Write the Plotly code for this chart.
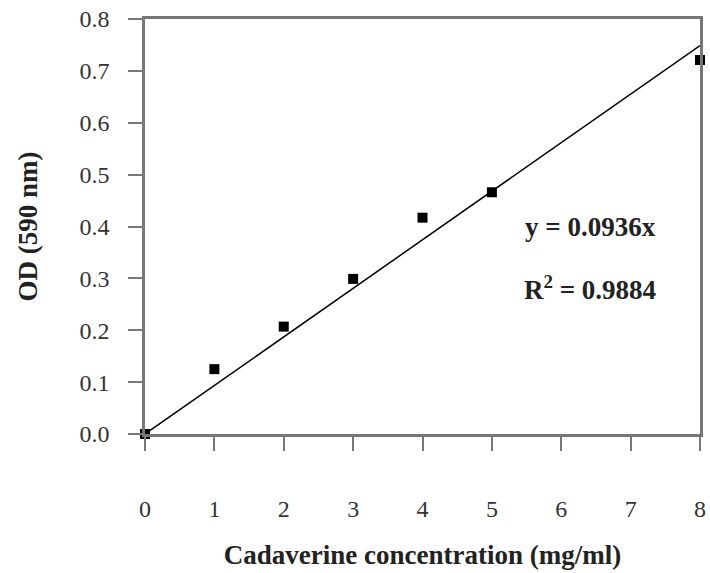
import plotly.graph_objects as go

# Cadaverine standard curve
concentration = [0, 1, 2, 3, 4, 5, 8]
od_590 = [0.0, 0.125, 0.207, 0.299, 0.417, 0.466, 0.721]
slope = 0.0936
r_squared = 0.9884
x_ticks = [0, 1, 2, 3, 4, 5, 6, 7, 8]
y_ticks = [0.0, 0.1, 0.2, 0.3, 0.4, 0.5, 0.6, 0.7, 0.8]

fit_x = [0, 8]
fit_y = [slope * x for x in fit_x]

serif = "Liberation Serif"
axis_color = "#777777"

fig = go.Figure()
fig.add_trace(go.Scatter(
    x=fit_x, y=fit_y, mode="lines",
    line=dict(color="black", width=1.5),
    hoverinfo="skip", showlegend=False, cliponaxis=False,
))
fig.add_trace(go.Scatter(
    x=concentration, y=od_590, mode="markers",
    marker=dict(symbol="square", size=10, color="black"),
    showlegend=False, cliponaxis=False,
))

fig.add_annotation(
    x=6.42, y=0.40, xref="x", yref="y", showarrow=False,
    text=f"<b>y = {slope}x</b>", xanchor="center",
    font=dict(family=serif, size=27, color="#222222"),
)
fig.add_annotation(
    x=6.42, y=0.282, xref="x", yref="y", showarrow=False,
    text=f"<b>R<sup>2</sup> = {r_squared}</b>", xanchor="center",
    font=dict(family=serif, size=27, color="#222222"),
)

fig.update_layout(
    width=710, height=573,
    margin=dict(l=145, r=4, t=19, b=139),
    plot_bgcolor="white", paper_bgcolor="white",
    font=dict(family=serif, color="#333333"),
)
fig.update_xaxes(
    range=[0, 8], tickvals=x_ticks, ticktext=[str(v) for v in x_ticks],
    showgrid=False, zeroline=False,
    showline=True, linecolor=axis_color, linewidth=2.5, mirror=True,
    ticks="outside", ticklen=14, tickwidth=2, tickcolor=axis_color,
    ticklabelstandoff=37,
    tickfont=dict(family=serif, size=24, color="#333333"),
    title=dict(text="<b>Cadaverine concentration (mg/ml)</b>",
               font=dict(family=serif, size=27, color="#222222"), standoff=25),
)
fig.update_yaxes(
    range=[0, 0.8], tickvals=y_ticks, tickformat=".1f",
    showgrid=False, zeroline=False,
    showline=True, linecolor=axis_color, linewidth=2.5, mirror=True,
    ticks="outside", ticklen=14, tickwidth=2, tickcolor=axis_color,
    ticklabelstandoff=14,
    tickfont=dict(family=serif, size=24, color="#333333"),
    title=dict(text="<b>OD (590 nm)</b>",
               font=dict(family=serif, size=27, color="#222222"), standoff=35),
)

fig.write_html("out.html")
